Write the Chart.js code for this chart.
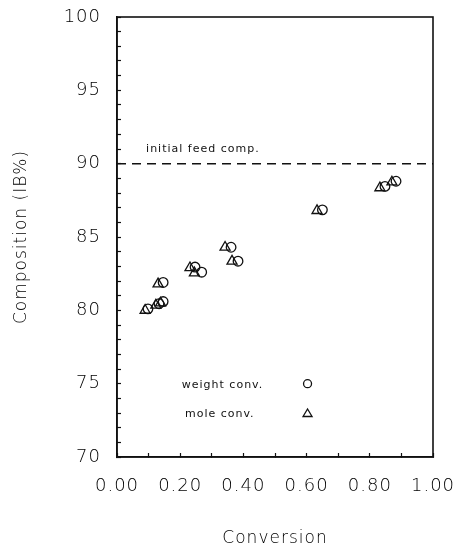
<!DOCTYPE html>
<html>
<head>
<meta charset="utf-8">
<script src="https://cdn.jsdelivr.net/npm/chart.js@4.4.1/dist/chart.umd.min.js"></script>
<style>
  html, body { margin: 0; padding: 0; background: #fff; }
  #wrap { width: 458px; height: 547px; }
</style>
</head>
<body>
<div id="wrap"><canvas id="chart" width="458" height="547"></canvas></div>
<script>
// conversion / composition
const weightConv = [0.098, 0.133, 0.146, 0.146, 0.247, 0.268, 0.361, 0.383, 0.650, 0.848, 0.883];
const weightComp = [80.1, 80.45, 80.6, 81.9, 82.95, 82.6, 84.3, 83.35, 86.85, 88.45, 88.8];

const moleConv = [0.089, 0.123, 0.138, 0.130, 0.231, 0.245, 0.342, 0.364, 0.633, 0.832, 0.870];
const moleComp = [80.0, 80.35, 80.5, 81.8, 82.9, 82.55, 84.3, 83.35, 86.8, 88.35, 88.75];

const feedComp = 90.0;

const xTicksMin = 0, xTicksMax = 1;
const yTicksMin = 70, yTicksMax = 100;

const FONT = "'DejaVu Sans', sans-serif";
const INK = "#111";
const TXT = "#000";

const toPoints = (xs, ys) => xs.map((x, i) => ({x: x, y: ys[i]}));

// old plotter lettering is spaced out a bit
const spacingPlugin = {
  id: "spacing",
  beforeDraw(chart) { chart.ctx.letterSpacing = "1px"; }
};

// box round the plot + text labels inside it
const framePlugin = {
  id: "frame",
  afterDraw(chart) {
    const {ctx, chartArea: a, scales} = chart;
    ctx.save();
    ctx.strokeStyle = INK;
    ctx.lineWidth = 1.6;
    ctx.strokeRect(a.left, a.top, a.right - a.left, a.bottom - a.top);

    const xs = scales.x, ys = scales.y;
    ctx.fillStyle = INK;
    ctx.font = "11px " + FONT;
    ctx.textBaseline = "alphabetic";
    ctx.textAlign = "left";
    ctx.fillText("initial feed comp.", xs.getPixelForValue(0.092), ys.getPixelForValue(feedComp) - 12);

    // legend
    ctx.fillText("weight conv.", xs.getPixelForValue(0.205), ys.getPixelForValue(75) + 4);
    ctx.fillText("mole conv.", xs.getPixelForValue(0.215), ys.getPixelForValue(73) + 4);

    ctx.lineWidth = 1.3;
    const mx = xs.getPixelForValue(0.603);
    let my = ys.getPixelForValue(75);
    ctx.beginPath();
    ctx.arc(mx, my, 4, 0, Math.PI * 2);
    ctx.stroke();
    my = ys.getPixelForValue(73);
    ctx.beginPath();
    ctx.moveTo(mx, my - 4);
    ctx.lineTo(mx + 4.5, my + 3.5);
    ctx.lineTo(mx - 4.5, my + 3.5);
    ctx.closePath();
    ctx.stroke();
    ctx.restore();
  }
};

const noOverflow = (s, w, h) => {
  if (w) s.width = w;
  if (h) s.height = h;
  s.paddingTop = 0; s.paddingBottom = 0; s.paddingLeft = 0; s.paddingRight = 0;
};

new Chart(document.getElementById("chart"), {
  type: "scatter",
  plugins: [spacingPlugin, framePlugin],
  data: {
    datasets: [
      {
        type: "line",
        data: [{x: xTicksMin, y: feedComp}, {x: xTicksMax, y: feedComp}],
        borderColor: INK,
        borderWidth: 1.5,
        borderDash: [9, 6],
        pointRadius: 0,
        fill: false
      },
      {
        label: "mole conv.",
        data: toPoints(moleConv, moleComp),
        pointStyle: "triangle",
        pointRadius: 5.8,
        borderColor: INK,
        borderWidth: 1.3,
        backgroundColor: "rgba(0,0,0,0)"
      },
      {
        label: "weight conv.",
        data: toPoints(weightConv, weightComp),
        pointStyle: "circle",
        pointRadius: 4.8,
        borderColor: INK,
        borderWidth: 1.3,
        backgroundColor: "rgba(0,0,0,0)"
      }
    ]
  },
  options: {
    responsive: false,
    animation: false,
    layout: { padding: { top: 17, right: 25, left: 0, bottom: 0 } },
    plugins: { legend: { display: false }, tooltip: { enabled: false } },
    scales: {
      x: {
        type: "linear",
        min: xTicksMin,
        max: xTicksMax,
        afterFit: (s) => noOverflow(s, 0, 90),
        border: { color: INK, width: 1.6 },
        grid: { drawOnChartArea: false, drawTicks: true, tickLength: -4, color: INK, tickWidth: 1.2 },
        ticks: {
          stepSize: 0.1,
          autoSkip: false,
          maxRotation: 0,
          padding: 23,
          color: TXT,
          font: { family: FONT, size: 18, weight: 200 },
          callback: (v, i) => (i % 2 === 0 ? v.toFixed(2) : "")
        },
        title: {
          display: true,
          text: "Conversion",
          color: TXT,
          font: { family: FONT, size: 17, weight: 200, lineHeight: 1 },
          padding: { top: 0, bottom: 0 }
        }
      },
      y: {
        type: "linear",
        min: yTicksMin,
        max: yTicksMax,
        afterFit: (s) => noOverflow(s, 117, 0),
        border: { color: INK, width: 1.6 },
        grid: { drawOnChartArea: false, drawTicks: true, tickLength: -4, color: INK, tickWidth: 1.2 },
        ticks: {
          stepSize: 1,
          autoSkip: false,
          padding: 20,
          color: TXT,
          font: { family: FONT, size: 18, weight: 200 },
          callback: (v) => (v % 5 === 0 ? v : "")
        },
        title: {
          display: true,
          text: "Composition (IB%)",
          color: TXT,
          font: { family: FONT, size: 17, weight: 200, lineHeight: 1 },
          padding: { top: 13, bottom: 0 }
        }
      }
    }
  }
});
</script>
</body>
</html>
